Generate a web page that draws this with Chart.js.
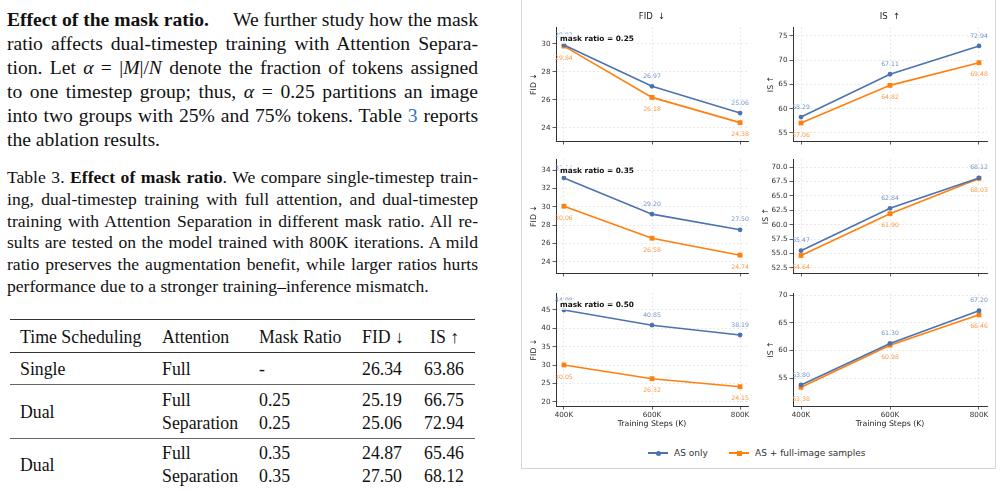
<!DOCTYPE html>
<html>
<head>
<meta charset="utf-8">
<script src="https://cdn.jsdelivr.net/npm/chart.js@4.4.0/dist/chart.umd.min.js"></script>
<style>
  body { margin: 0; width: 1002px; height: 491px; background: #fff; position: relative; overflow: hidden;
         font-family: "Liberation Serif", "Times New Roman", serif; color: #111; }
  .para { position: absolute; left: 7px; width: 471px; top: 8px; font-size: 19.6px; line-height: 24px; word-spacing: -2px; }
  .cap { position: absolute; left: 7px; width: 471px; top: 167px; font-size: 17.6px; line-height: 21.8px; word-spacing: -2px; }
  .para span, .cap span { display: block; text-align: justify; text-align-last: justify; }
  .para span.last, .cap span.last { text-align-last: left; word-spacing: 0; }
  .ref { color: #2f74c0; }
  .t { position: absolute; font-size: 17.8px; line-height: 20px; white-space: nowrap; }
  .rule { position: absolute; left: 10px; width: 465px; background: #333; }
  .fig { position: absolute; left: 521px; top: -2px; width: 473px; height: 469px;
         border: 1px solid #d6d6d6; }
  canvas { position: absolute; }
  .legend { position: absolute; top: 446px; font-family: "DejaVu Sans", sans-serif; font-size: 9px;
            color: #333; line-height: 14px; }
  .lg-line { position: absolute; top: 6px; width: 20px; height: 1.6px; }
  .lg-mark { position: absolute; }
</style>
</head>
<body>

<div class="para">
  <span><b>Effect of the mask ratio.</b>&emsp; We further study how the mask</span>
  <span>ratio affects dual-timestep training with Attention Separa-</span>
  <span>tion. Let <i>α</i> = |<i>M</i>|/<i>N</i> denote the fraction of tokens assigned</span>
  <span>to one timestep group; thus, <i>α</i> = 0.25 partitions an image</span>
  <span>into two groups with 25% and 75% tokens. Table <span class="ref" style="display:inline">3</span> reports</span>
  <span class="last">the ablation results.</span>
</div>

<div class="cap">
  <span>Table 3. <b>Effect of mask ratio</b>. We compare single-timestep train-</span>
  <span>ing, dual-timestep training with full attention, and dual-timestep</span>
  <span>training with Attention Separation in different mask ratio. All re-</span>
  <span>sults are tested on the model trained with 800K iterations. A mild</span>
  <span>ratio preserves the augmentation benefit, while larger ratios hurts</span>
  <span class="last">performance due to a stronger training–inference mismatch.</span>
</div>

<div class="rule" style="top:319px;height:1.4px"></div>
<div class="t" style="left:20px;top:327px">Time Scheduling</div>
<div class="t" style="left:162px;top:327px">Attention</div>
<div class="t" style="left:259px;top:327px">Mask Ratio</div>
<div class="t" style="left:362px;top:327px">FID ↓</div>
<div class="t" style="left:430px;top:327px">IS ↑</div>
<div class="rule" style="top:352px;height:1px"></div>
<div class="t" style="left:20px;top:359px">Single</div>
<div class="t" style="left:162px;top:359px">Full</div>
<div class="t" style="left:259px;top:359px">-</div>
<div class="t" style="left:362px;top:359px">26.34</div>
<div class="t" style="left:424px;top:359px">63.86</div>
<div class="rule" style="top:384px;height:1px;background:#666"></div>
<div class="t" style="left:20px;top:402px">Dual</div>
<div class="t" style="left:162px;top:390px">Full</div>
<div class="t" style="left:162px;top:413px">Separation</div>
<div class="t" style="left:259px;top:390px">0.25</div>
<div class="t" style="left:259px;top:413px">0.25</div>
<div class="t" style="left:362px;top:390px">25.19</div>
<div class="t" style="left:362px;top:413px">25.06</div>
<div class="t" style="left:424px;top:390px">66.75</div>
<div class="t" style="left:424px;top:413px">72.94</div>
<div class="rule" style="top:438px;height:1px;background:#666"></div>
<div class="t" style="left:20px;top:455px">Dual</div>
<div class="t" style="left:162px;top:443px">Full</div>
<div class="t" style="left:162px;top:466px">Separation</div>
<div class="t" style="left:259px;top:443px">0.35</div>
<div class="t" style="left:259px;top:466px">0.35</div>
<div class="t" style="left:362px;top:443px">24.87</div>
<div class="t" style="left:362px;top:466px">27.50</div>
<div class="t" style="left:424px;top:443px">65.46</div>
<div class="t" style="left:424px;top:466px">68.12</div>

<div class="fig"></div>

<canvas id="fid025" width="228" height="150" style="left:524px;top:0px"></canvas>
<canvas id="is025" width="230" height="150" style="left:761px;top:0px"></canvas>
<canvas id="fid035" width="228" height="132" style="left:524px;top:150px"></canvas>
<canvas id="is035" width="230" height="132" style="left:761px;top:150px"></canvas>
<canvas id="fid050" width="228" height="154" style="left:524px;top:282px"></canvas>
<canvas id="is050" width="230" height="154" style="left:761px;top:282px"></canvas>

<div class="legend" style="left:648px">
  <div class="lg-line" style="left:0;background:#4c72b0"></div>
  <div class="lg-mark" style="left:7.5px;top:4.5px;width:5px;height:5px;border-radius:50%;background:#4c72b0"></div>
  <div style="position:absolute;left:26px;white-space:nowrap">AS only</div>
</div>
<div class="legend" style="left:729px">
  <div class="lg-line" style="left:0;background:#ff7f0e"></div>
  <div class="lg-mark" style="left:7.5px;top:4.5px;width:5px;height:5px;background:#ff7f0e"></div>
  <div style="position:absolute;left:26px;white-space:nowrap">AS + full-image samples</div>
</div>

<script>
// 데이터
const steps = ['400K', '600K', '800K'];
const seriesNames = ['AS only', 'AS + full-image samples'];

const fidAs025 = [29.92, 26.97, 25.06];
const fidFull025 = [29.84, 26.18, 24.38];
const isAs025 = [58.29, 67.11, 72.94];
const isFull025 = [57.06, 64.82, 69.48];

const fidAs035 = [33.14, 29.20, 27.50];
const fidFull035 = [30.06, 26.58, 24.74];
const isAs035 = [55.47, 62.84, 68.12];
const isFull035 = [54.64, 61.90, 68.03];

const fidAs050 = [44.98, 40.85, 38.19];
const fidFull050 = [30.05, 26.32, 24.15];
const isAs050 = [53.80, 61.30, 67.20];
const isFull050 = [53.38, 60.98, 66.46];

const fidTicks025 = [24, 26, 28, 30];
const isTicks025 = [55, 60, 65, 70, 75];
const fidTicks035 = [24, 26, 28, 30, 32, 34];
const isTicks035 = [52.5, 55.0, 57.5, 60.0, 62.5, 65.0, 67.5, 70.0];
const fidTicks050 = [20, 25, 30, 35, 40, 45];
const isTicks050 = [55, 60, 65, 70];

const FONT = '"DejaVu Sans", sans-serif';
const BLUE = '#4c72b0';
const ORANGE = '#ff7f0e';

// 값 라벨, 마스크 비율 표시, 열 제목
const annot = {
    id: 'annot',
    afterDatasetsDraw(chart, args, o) {
        const ctx = chart.ctx;
        const a = chart.chartArea;
        ctx.save();
        ctx.textAlign = 'center';
        ctx.textBaseline = 'middle';
        ctx.font = '6.2px ' + FONT;
        chart.data.datasets.forEach((ds, di) => {
            chart.getDatasetMeta(di).data.forEach((pt, i) => {
                ctx.fillStyle = ds.labelColor;
                ctx.fillText(ds.data[i].y.toFixed(2), pt.x, pt.y + ds.labelOffset);
            });
        });
        if (o.tag) {
            ctx.font = 'bold 7.4px ' + FONT;
            const w = ctx.measureText(o.tag).width;
            ctx.fillStyle = 'rgba(255,255,255,0.75)';
            ctx.fillRect(a.left + 3, a.top + 7, w + 2, 10);
            ctx.fillStyle = '#111';
            ctx.textAlign = 'left';
            ctx.fillText(o.tag, a.left + 4, a.top + 12);
        }
        if (o.head) {
            ctx.font = '8.5px ' + FONT;
            ctx.fillStyle = '#222';
            ctx.textAlign = 'center';
            ctx.fillText(o.head, (a.left + a.right) / 2, 17);
        }
        ctx.restore();
    }
};

function makeChart(id, asVals, fullVals, yTicks, cfg) {
    const ctx = document.getElementById(id).getContext('2d');
    const toPts = vals => vals.map((v, i) => ({ x: i, y: v }));
    return new Chart(ctx, {
        type: 'line',
        data: {
            datasets: [{
                label: seriesNames[0],
                data: toPts(asVals),
                borderColor: BLUE,
                backgroundColor: BLUE,
                borderWidth: 1.6,
                pointStyle: 'circle',
                pointRadius: 2.4,
                pointBorderWidth: 0,
                labelColor: '#7194c8',
                labelOffset: -10
            }, {
                label: seriesNames[1],
                data: toPts(fullVals),
                borderColor: ORANGE,
                backgroundColor: ORANGE,
                borderWidth: 1.6,
                pointStyle: 'rect',
                pointRadius: 3.4,
                pointBorderWidth: 0,
                labelColor: '#f99a44',
                labelOffset: 12
            }]
        },
        options: {
            responsive: false,
            animation: false,
            devicePixelRatio: 1,
            layout: { padding: { top: cfg.padTop, right: 4, left: 0, bottom: 0 } },
            plugins: {
                legend: { display: false },
                tooltip: { enabled: false },
                annot: { tag: cfg.tag, head: cfg.head }
            },
            scales: {
                x: {
                    type: 'linear',
                    min: -0.09,
                    max: 2.09,
                    afterBuildTicks: s => { s.ticks = steps.map((_, i) => ({ value: i })); },
                    afterFit: s => { s.height = cfg.xH; },
                    ticks: {
                        display: cfg.showX,
                        callback: v => steps[v],
                        font: { family: FONT, size: 7.2 },
                        color: '#333',
                        padding: 1,
                        maxRotation: 0,
                        autoSkip: false
                    },
                    grid: { color: '#e4e4e4', lineWidth: 0.8, tickColor: '#333', tickLength: 3.5 },
                    border: { color: '#333', width: 1, dash: [2, 2] },
                    title: {
                        display: cfg.showX,
                        text: 'Training Steps (K)',
                        font: { family: FONT, size: 7.8 },
                        color: '#222',
                        padding: { top: 0, bottom: 7 }
                    }
                },
                y: {
                    min: cfg.yMin,
                    max: cfg.yMax,
                    afterBuildTicks: s => { s.ticks = yTicks.map(v => ({ value: v })); },
                    afterFit: s => { s.width = 32; },
                    ticks: {
                        callback: v => v.toFixed(cfg.dec),
                        font: { family: FONT, size: 7.2 },
                        color: '#333',
                        padding: 2
                    },
                    grid: { color: '#e4e4e4', lineWidth: 0.8, tickColor: '#333', tickLength: 3.5 },
                    border: { color: '#333', width: 1, dash: [2, 2] },
                    title: {
                        display: true,
                        text: cfg.yTitle,
                        font: { family: FONT, size: 7.8 },
                        color: '#222',
                        padding: { top: cfg.titlePad, bottom: 0 }
                    }
                }
            }
        },
        plugins: [annot]
    });
}

makeChart('fid025', fidAs025, fidFull025, fidTicks025,
    { padTop: 27, xH: 9, showX: false, yMin: 23.07, yMax: 31.2, dec: 0, titlePad: 5, yTitle: 'FID ↓', tag: 'mask ratio = 0.25', head: 'FID  ↓' });
makeChart('is025', isAs025, isFull025, isTicks025,
    { padTop: 27, xH: 9, showX: false, yMin: 53.35, yMax: 76.85, dec: 0, titlePad: 5, yTitle: 'IS ↑', head: 'IS  ↑' });
makeChart('fid035', fidAs035, fidFull035, fidTicks035,
    { padTop: 9, xH: 9, showX: false, yMin: 22.8, yMax: 35.2, dec: 0, titlePad: 5, yTitle: 'FID ↓', tag: 'mask ratio = 0.35' });
makeChart('is035', isAs035, isFull035, isTicks035,
    { padTop: 9, xH: 9, showX: false, yMin: 51.6, yMax: 71.4, dec: 1, titlePad: 0, yTitle: 'IS ↑' });
makeChart('fid050', fidAs050, fidFull050, fidTicks050,
    { padTop: 11, xH: 30, showX: true, yMin: 18.9, yMax: 49.6, dec: 0, titlePad: 5, yTitle: 'FID ↓', tag: 'mask ratio = 0.50' });
makeChart('is050', isAs050, isFull050, isTicks050,
    { padTop: 11, xH: 30, showX: true, yMin: 50.0, yMax: 70.4, dec: 0, titlePad: 5, yTitle: 'IS ↑' });
</script>
</body>
</html>
